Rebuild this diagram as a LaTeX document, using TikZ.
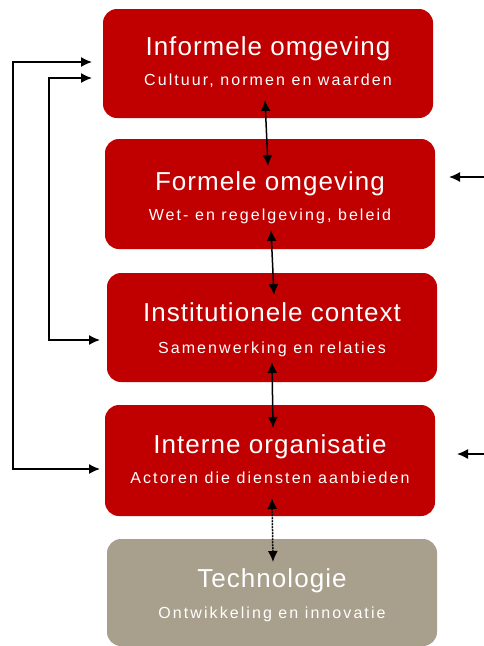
\documentclass[tikz,border=0pt]{standalone}
\usepackage{fontspec}
\setmainfont{Liberation Sans}
\newfontfamily\titlefont[LetterSpace=4]{Liberation Sans}
\newfontfamily\subfont[LetterSpace=13]{Liberation Sans}
\usetikzlibrary{arrows.meta,calc}
\definecolor{boxred}{HTML}{C00000}
\definecolor{boxtan}{HTML}{A89F8D}
\tikzset{
  layerbox/.style={rounded corners=14pt, minimum width=330pt, inner sep=0pt},
  headtext/.style={anchor=base, text=white, font=\titlefont\fontsize{26}{30}\selectfont, inner sep=0pt},
  subtext/.style={anchor=base, text=white, font=\subfont\fontsize{16}{19}\selectfont, inner sep=0pt},
  link/.style={line width=1.5pt, -{Latex[length=11pt,width=10pt]}},
  duallink/.style={line width=1.5pt, {Latex[length=11pt,width=10pt]}-{Latex[length=11pt,width=10pt]}},
}
\begin{document}
\begin{tikzpicture}[x=1pt,y=-1pt]
\useasboundingbox (0,0) rectangle (483,646);

% layer boxes
\node[layerbox, fill=boxred, minimum height=109pt] (b1) at (268,63.5) {};
\node[layerbox, fill=boxred, minimum height=110pt] (b2) at (270,194) {};
\node[layerbox, fill=boxred, minimum height=109pt] (b3) at (272,327.5) {};
\node[layerbox, fill=boxred, minimum height=111pt] (b4) at (270,460.5) {};
\node[layerbox, fill=boxtan, minimum height=107pt] (b5) at (272,592.5) {};

% box texts
\node[headtext] (t1) at (268,55) {Informele omgeving};
\node[subtext]  (s1) at (268,85) {Cultuur, normen en waarden};
\node[headtext] (t2) at (270,190) {Formele omgeving};
\node[subtext]  (s2) at (270,220) {Wet- en regelgeving, beleid};
\node[headtext] (t3) at (272,321) {Institutionele context};
\node[subtext]  (s3) at (272,353) {Samenwerking en relaties};
\node[headtext] (t4) at (270,453) {Interne organisatie};
\node[subtext]  (s4) at (270,483) {Actoren die diensten aanbieden};
\node[headtext] (t5) at (272,587) {Technologie};
\node[subtext]  (s5) at (272,618) {Ontwikkeling en innovatie};

% vertical links between neighbouring layers
\coordinate (a1) at (265,100);  \coordinate (a2) at (268,166);
\coordinate (c1) at (271,230);  \coordinate (c2) at (274,295);
\coordinate (d1) at (272,362);  \coordinate (d2) at (273,428);
\coordinate (e1) at (272,498);  \coordinate (e2) at (273,562);
\draw[duallink] (a1) -- (a2);
\draw[duallink] (c1) -- (c2);
\draw[duallink] (d1) -- (d2);
\draw[duallink, dash pattern=on 2pt off 1pt] (e1) -- (e2);

% feedback loops on the left
\coordinate (o1) at (92,62);  \coordinate (o2) at (100,469);
\coordinate (i1) at (92,78);  \coordinate (i2) at (100,340);
\draw[duallink] (o2) -- (13,469) -- (13,62) -- (o1);
\draw[duallink] (i2) -- (49,340) -- (49,78) -- (i1);

% external influences from the right
\coordinate (r1) at (485,177); \coordinate (r2) at (449,177);
\coordinate (q1) at (485,454); \coordinate (q2) at (457,454);
\draw[link] (r1) -- (r2);
\draw[link] (q1) -- (q2);
\end{tikzpicture}
\end{document}
